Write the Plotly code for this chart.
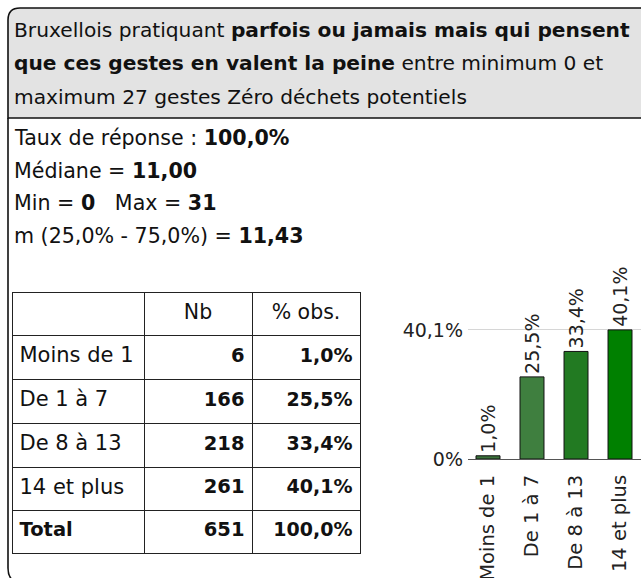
import plotly.graph_objects as go

# ---- data ----
categories = ["Moins de 1", "De 1 à 7", "De 8 à 13", "14 et plus"]
counts = [6, 166, 218, 261]
percents = [1.0, 25.5, 33.4, 40.1]
total_count = 651
total_percent = 100.0

title_lines = [
    "Bruxellois pratiquant <b>parfois ou jamais mais qui pensent</b>",
    "<b>que ces gestes en valent la peine</b> entre minimum 0 et",
    "maximum 27 gestes Zéro déchets potentiels",
]
stats_lines = [
    "Taux de réponse : <b>100,0%</b>",
    "Médiane = <b>11,00</b>",
    "Min = <b>0</b>   Max = <b>31</b>",
    "m (25,0% - 75,0%) = <b>11,43</b>",
]
table_header = ["Nb", "% obs."]

bar_colors = ["#3b723b", "#3f7f3f", "#227a22", "#008000"]

W, H = 641, 578
FONT = "DejaVu Sans"
FS = 19
INK = "#111111"


def fx(x):
    return x / W


def fy(y):
    return 1 - y / H


def fmt_pct(v):
    return f"{v:.1f}".replace(".", ",") + "%"


fig = go.Figure()

# ---- bar chart (x / y) ----
x_pos = list(range(len(categories)))
fig.add_trace(go.Bar(
    x=x_pos,
    y=percents,
    width=0.545,
    marker=dict(color=bar_colors, line=dict(color="#111111", width=1)),
    text=[fmt_pct(v) for v in percents],
    textposition="outside",
    textangle=-90,
    constraintext="none",
    cliponaxis=False,
    textfont=dict(family=FONT, size=FS, color="#222222"),
    hoverinfo="skip",
    showlegend=False,
))

# ---- frequency table (x2 / y2), units are pixels of the table box ----
col_edges = [0, 131, 239, 347]
row_edges = [0, 42, 86, 130, 174, 217, 260]
row_mid = [(a + b) / 2 for a, b in zip(row_edges[:-1], row_edges[1:])]
body_mid = row_mid[1:]
pad = 7.5

first_col = categories + ["<b>Total</b>"]
nb_col = [f"<b>{c}</b>" for c in counts] + [f"<b>{total_count}</b>"]
pct_col = [f"<b>{fmt_pct(p)}</b>" for p in percents] + [f"<b>{fmt_pct(total_percent)}</b>"]

common = dict(mode="text", xaxis="x2", yaxis="y2", hoverinfo="skip",
              showlegend=False, cliponaxis=False)

fig.add_trace(go.Scatter(
    x=[(col_edges[1] + col_edges[2]) / 2, (col_edges[2] + col_edges[3]) / 2],
    y=[row_mid[0]] * 2,
    text=table_header, textposition="middle center",
    textfont=dict(family=FONT, size=20.5, color=INK), **common,
))
fig.add_trace(go.Scatter(
    x=[col_edges[0] + pad - 1] * len(first_col), y=body_mid,
    text=first_col, textposition="middle right",
    textfont=dict(family=FONT, size=[21] * len(categories) + [19.5], color=INK),
    **common,
))
fig.add_trace(go.Scatter(
    x=[col_edges[2] - pad] * len(nb_col), y=body_mid,
    text=nb_col, textposition="middle left",
    textfont=dict(family=FONT, size=19.5, color=INK), **common,
))
fig.add_trace(go.Scatter(
    x=[col_edges[3] - pad] * len(pct_col), y=body_mid,
    text=pct_col, textposition="middle left",
    textfont=dict(family=FONT, size=19, color=INK), **common,
))

# ---- frame and header band ----
shapes = [
    dict(type="path", xref="paper", yref="paper",
         path=(f"M {fx(8)},{fy(118)} L {fx(8)},{fy(20)} "
               f"Q {fx(8)},{fy(8)} {fx(20)},{fy(8)} "
               f"L {fx(650)},{fy(8)} L {fx(650)},{fy(118)} Z"),
         fillcolor="#e3e3e3", line=dict(color="#111111", width=1.6), layer="below"),
    dict(type="path", xref="paper", yref="paper",
         path=(f"M {fx(8)},{fy(118)} L {fx(8)},{fy(568)} "
               f"Q {fx(8)},{fy(578)} {fx(15)},{fy(582)}"),
         line=dict(color="#111111", width=1.6)),
]

annotations = []
for i, t in enumerate(title_lines):
    annotations.append(dict(
        text=t, x=fx(12), y=fy(30 + i * 33.5), xref="paper", yref="paper",
        xanchor="left", yanchor="middle", showarrow=False,
        font=dict(family=FONT, size=20.2, color=INK),
    ))
for i, t in enumerate(stats_lines):
    annotations.append(dict(
        text=t, x=fx(12), y=fy(138 + i * 32.7), xref="paper", yref="paper",
        xanchor="left", yanchor="middle", showarrow=False,
        font=dict(family=FONT, size=20.6, color=INK),
    ))

table_axis = dict(
    showgrid=True, gridcolor="#222222", gridwidth=1,
    showline=True, mirror=True, linecolor="#222222", linewidth=1,
    showticklabels=False, ticks="", zeroline=False,
    fixedrange=True, automargin=False,
)

fig.update_layout(
    width=W, height=H, autosize=False,
    margin=dict(l=0, r=0, t=0, b=0),
    paper_bgcolor="white", plot_bgcolor="white",
    shapes=shapes,
    annotations=annotations,
    xaxis=dict(
        domain=[fx(468), 1],
        range=[-0.4545, 3.477],
        tickmode="array", tickvals=x_pos, ticktext=categories,
        tickangle=-90,
        tickfont=dict(family=FONT, size=19.5, color="#222222"),
        ticklabelstandoff=7,
        showline=True, linecolor="#555555", linewidth=1.2,
        showgrid=False, zeroline=False, ticks="",
        fixedrange=True, automargin=False,
    ),
    yaxis=dict(
        domain=[fy(459), fy(298)],
        range=[0, 50],
        tickmode="array", tickvals=[0, 40.1], ticktext=["0%", "40,1%"],
        tickfont=dict(family=FONT, size=FS, color="#222222"),
        ticklabelstandoff=4,
        showgrid=True, gridcolor="#d6d6d6", gridwidth=1,
        zeroline=False, showline=False, ticks="",
        fixedrange=True, automargin=False,
    ),
    xaxis2=dict(
        domain=[fx(13), fx(360)], anchor="y2",
        range=[col_edges[0], col_edges[-1]],
        tickmode="array", tickvals=col_edges[1:-1],
        **table_axis,
    ),
    yaxis2=dict(
        domain=[fy(553), fy(293)], anchor="x2",
        range=[row_edges[-1], row_edges[0]],
        tickmode="array", tickvals=row_edges[1:-1],
        **table_axis,
    ),
)

fig.write_html("out.html")
